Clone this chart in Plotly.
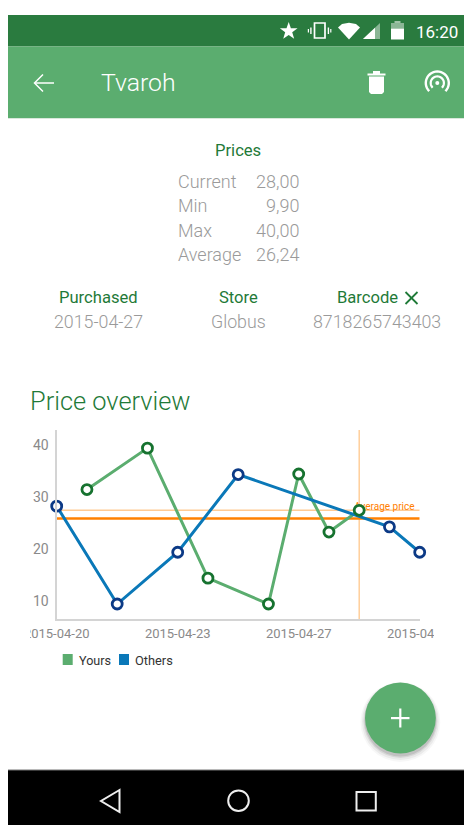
import math
import plotly.graph_objects as go

W, H = 464, 825

# ---- chart data ----
yours_idx = [1, 3, 5, 7, 8, 9, 10]
yours_val = [32.0, 40.0, 14.9, 9.9, 35.0, 23.8, 28.0]
others_idx = [0, 2, 4, 6, 11, 12]
others_val = [28.8, 9.9, 19.9, 34.9, 24.8, 19.9]
tick_idx = [0, 4, 8, 12]
tick_labels = ["2015-04-20", "2015-04-23", "2015-04-27", "2015-04-30"]
y_ticks = [10, 20, 30, 40]
average_price = 26.4
current_price = 28.0
current_idx = 10

# ---- page texts ----
price_rows = [("Current", "28,00"), ("Min", "9,90"), ("Max", "40,00"), ("Average", "26,24")]
info_heads = ["Purchased", "Store", "Barcode"]
info_vals = ["2015-04-27", "Globus", "8718265743403"]

GREEN = "#5BAD6F"
DARK = "#2A7B3F"
TXT_G = "#1F7A38"
BLUE = "#0A78B8"
ORANGE = "#FF8000"
PALE = "#FFCB94"
GRAY = "#9A9A9A"
FONT = "Roboto"


def px(x):
    return x / W


def py(y):
    return 1 - y / H


def path(points, close=True):
    s = "M" + " L".join(f"{px(x):.5f},{py(y):.5f}" for x, y in points)
    return s + (" Z" if close else "")


shapes = []


def rect(x0, y0, x1, y1, color, layer="above"):
    shapes.append(dict(type="rect", xref="paper", yref="paper", x0=px(x0), x1=px(x1),
                       y0=py(y1), y1=py(y0), fillcolor=color, line_width=0, layer=layer))


def poly(points, color=None, line=None, width=0, close=True):
    shapes.append(dict(type="path", xref="paper", yref="paper", path=path(points, close),
                       fillcolor=color if color else "rgba(0,0,0,0)",
                       line=dict(color=line if line else "rgba(0,0,0,0)", width=width),
                       layer="above"))


def circle(cx, cy, r, color=None, line=None, width=0):
    shapes.append(dict(type="circle", xref="paper", yref="paper",
                       x0=px(cx - r), x1=px(cx + r), y0=py(cy + r), y1=py(cy - r),
                       fillcolor=color if color else "rgba(0,0,0,0)",
                       line=dict(color=line if line else "rgba(0,0,0,0)", width=width),
                       layer="above"))


def arc(cx, cy, r, a0, a1, n=28):
    return [(cx + r * math.cos(math.radians(a0 + (a1 - a0) * i / n)),
             cy + r * math.sin(math.radians(a0 + (a1 - a0) * i / n))) for i in range(n + 1)]


# page background blocks
rect(8, 15, W, 46.5, DARK)
rect(8, 46.5, W, 118, GREEN)
rect(8, 118, W, 119, "#D9E8DC")
rect(8, 770, W, 825, "#000000")
rect(8, 769.5, W, 770.5, "#777777")
# clipped ends of the x tick labels
rect(0, 623, 30, 645, "#FFFFFF")
rect(434, 623, W, 645, "#FFFFFF")

# status bar icons
star = []
for i in range(10):
    r = 9.3 if i % 2 == 0 else 3.7
    a = math.radians(-90 + 36 * i)
    star.append((288.7 + r * math.cos(a), 31.2 + r * math.sin(a)))
poly(star, "#FFFFFF")
shapes.append(dict(type="rect", xref="paper", yref="paper", x0=px(314.5), x1=px(325), y0=py(38), y1=py(23),
                   fillcolor="rgba(0,0,0,0)", line=dict(color="#FFFFFF", width=1.7), layer="above"))
rect(310.2, 27.5, 311.6, 34, "#FFFFFF")
rect(307.8, 29, 309, 32.5, "#FFFFFF")
rect(327.7, 27.5, 329.1, 34, "#FFFFFF")
rect(330.2, 29, 331.4, 32.5, "#FFFFFF")
poly([(338, 27.5), (342, 24), (349, 22.8), (356, 24), (360, 27.5), (349, 39.5)], "#FFFFFF")
poly([(363, 39), (380, 39), (380, 23)], "rgba(255,255,255,0.45)")
poly([(363, 39), (375, 39), (375, 27.7)], "#FFFFFF")
rect(394.5, 21, 400.5, 23, "rgba(255,255,255,0.55)")
rect(391, 23, 404, 28.5, "rgba(255,255,255,0.45)")
rect(391, 28.5, 404, 39.5, "#FFFFFF")

# app bar icons
poly([(54, 83), (35, 83)], None, "#FFFFFF", 1.5, close=False)
poly([(43, 74.5), (34.5, 83), (43, 91.5)], None, "#FFFFFF", 1.5, close=False)
rect(367.5, 73.5, 385.5, 75.5, "#FFFFFF")
rect(373, 71, 380, 74, "#FFFFFF")
poly([(369, 76.5), (384, 76.5), (384, 92), (382, 94), (371, 94), (369, 92)], "#FFFFFF")
for r, w in ((11.5, 2.4), (6.6, 2.2)):
    poly(arc(437.3, 83, r, 135, 405), None, "#FFFFFF", w, close=False)
circle(437.3, 83, 2, "#FFFFFF")

# barcode cross
poly([(405.5, 292), (417.5, 304)], None, TXT_G, 1.8, close=False)
poly([(417.5, 292), (405.5, 304)], None, TXT_G, 1.8, close=False)

# legend swatches
rect(62.7, 654, 72.7, 665, GREEN)
rect(119, 654, 129, 665, BLUE)

# floating button
for grow, drop, alpha in ((4.5, 4, 0.03), (3, 3.5, 0.05), (1.5, 3, 0.08), (0.5, 2.5, 0.1)):
    circle(400.4, 718 + drop, 35.4 + grow, f"rgba(0,0,0,{alpha})")
circle(400.4, 718, 35.4, GREEN)
rect(391, 717, 409.5, 719.2, "#FFFFFF")
rect(399.2, 708.5, 401.4, 727.5, "#FFFFFF")

# navigation bar icons
poly([(119.5, 790), (101, 801), (119.5, 812)], None, "#EEEEEE", 2)
circle(238.5, 800.7, 10.3, None, "#EEEEEE", 2)
poly([(356.5, 792), (375.8, 792), (375.8, 810.5), (356.5, 810.5)], None, "#EEEEEE", 2)

# chart reference lines, under the series
for v, c, w in ((current_price, PALE, 1.4), (average_price, ORANGE, 2.6)):
    shapes.append(dict(type="line", xref="x", yref="y", x0=0, x1=12, y0=v, y1=v,
                       line=dict(color=c, width=w), layer="below"))
shapes.append(dict(type="line", xref="x", yref="paper", x0=current_idx, x1=current_idx,
                   y0=py(619), y1=py(430), line=dict(color=PALE, width=1.4), layer="below"))

ann = []


def text(x, y, s, size, color, anchor="center", weight=400):
    ann.append(dict(xref="paper", yref="paper", x=px(x), y=py(y), text=s, showarrow=False,
                    xanchor=anchor, yanchor="middle", borderpad=0, borderwidth=0,
                    font=dict(family=FONT, size=size, color=color, weight=weight)))


text(457.5, 31.5, "16:20", 17, "#FFFFFF", "right", 400)
text(101, 83, "Tvaroh", 24.8, "#FFFFFF", "left", 300)
text(238, 150, "Prices", 16.6, TXT_G, "center", 400)
for (lab, val), y in zip(price_rows, (181.5, 205.7, 230, 254)):
    text(177.5, y, lab, 18, GRAY, "left", 300)
    text(299, y, val, 18, GRAY, "right", 300)
for head, val, cx, cv in zip(info_heads, info_vals, (98.7, 238, 367.5), (98.5, 238, 377.3)):
    text(cx, 297, head, 16.6, TXT_G, "center", 400)
    text(cv, 321, val, 17.8, GRAY, "center", 300)
text(29.5, 401, "Price overview", 25.4, TXT_G, "left", 300)
text(79, 660, "Yours", 12.6, "#333333", "left")
text(135, 660, "Others", 12.8, "#333333", "left")

# y tick labels sit a little above the value they name
for v in y_ticks:
    ann.append(dict(xref="paper", yref="y", x=px(50), y=v, text=str(v), showarrow=False,
                    xanchor="right", yanchor="middle", yshift=3, borderpad=0,
                    font=dict(family=FONT, size=14, color="#8A8A8A", weight=400)))

fig = go.Figure()
fig.add_trace(go.Scatter(x=[11.83], y=[27.55], mode="text", text=["Average price"],
                         textposition="top left", textfont=dict(family=FONT, size=10, color=ORANGE),
                         showlegend=False, hoverinfo="skip", cliponaxis=False))
fig.add_trace(go.Scatter(x=yours_idx, y=yours_val, mode="lines", name="Yours",
                         line=dict(color=GREEN, width=3), showlegend=False, cliponaxis=False))
fig.add_trace(go.Scatter(x=others_idx, y=others_val, mode="lines", name="Others",
                         line=dict(color=BLUE, width=3), showlegend=False, cliponaxis=False))
fig.add_trace(go.Scatter(x=yours_idx, y=yours_val, mode="markers", name="Yours",
                         marker=dict(size=10, color="#FFFFFF", line=dict(color="#16722F", width=2.8)),
                         showlegend=False, cliponaxis=False))
fig.add_trace(go.Scatter(x=others_idx, y=others_val, mode="markers", name="Others",
                         marker=dict(size=10, color="#FFFFFF", line=dict(color="#0C3A86", width=2.8)),
                         showlegend=False, cliponaxis=False))

fig.update_layout(
    width=W, height=H, margin=dict(l=0, r=0, t=0, b=0, pad=0), autosize=False,
    paper_bgcolor="#FFFFFF", plot_bgcolor="#FFFFFF", showlegend=False,
    shapes=shapes, annotations=ann, font=dict(family=FONT),
    xaxis=dict(domain=[px(56.7), px(419.7)], range=[0, 12], tickmode="array", automargin=False,
               tickvals=tick_idx, ticktext=tick_labels, showgrid=False, zeroline=False,
               showline=True, linecolor="#D4D4D4", linewidth=2, ticks="", tickangle=0,
               tickfont=dict(family=FONT, size=13, color="#8A8A8A", weight=400), ticklabelstandoff=1),
    yaxis=dict(domain=[py(619.3), py(430)], range=[6.95, 43.5], tickmode="array", automargin=False,
               tickvals=y_ticks, showticklabels=False, showgrid=False, zeroline=False,
               showline=True, linecolor="#D4D4D4", linewidth=2, ticks=""),
)
fig.write_html("out.html", config=dict(displayModeBar=False),
               post_script="document.body.style.margin='0';")
